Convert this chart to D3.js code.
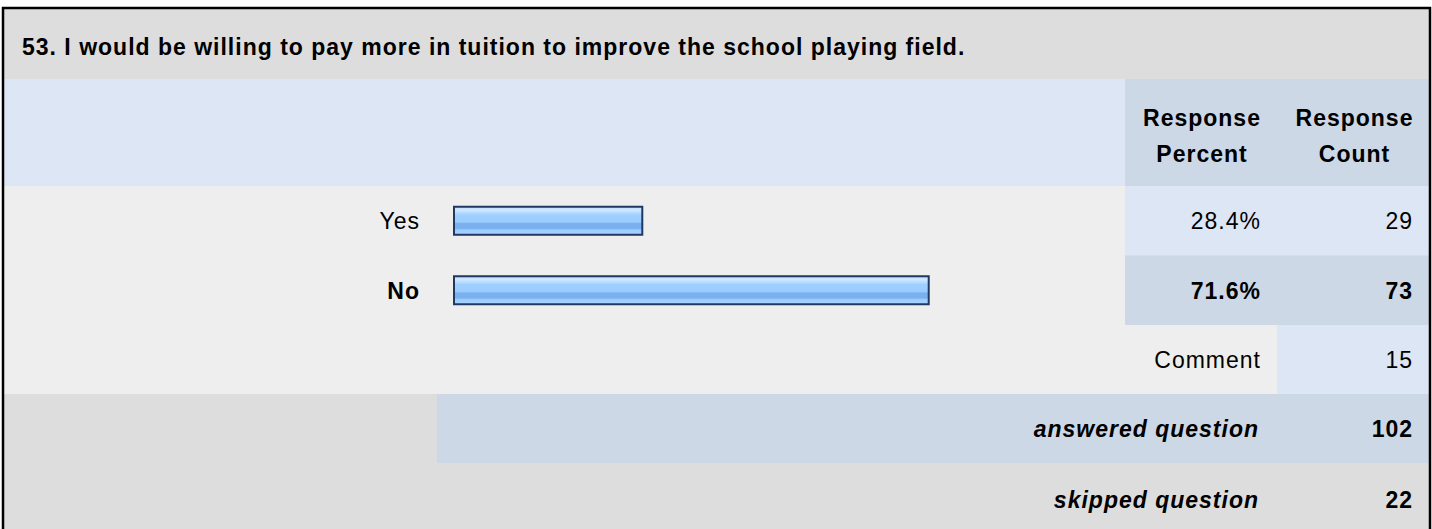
<!DOCTYPE html>
<html>
<head>
<meta charset="utf-8">
<title>Question 53</title>
<style>
  body { margin: 0; background: #fff; }
  svg text { font-family: "Liberation Sans", Arial, sans-serif; font-size: 23px; letter-spacing: 1px; fill: #000; }
  .bold { font-weight: bold; }
  .ital { font-style: italic; font-weight: bold; }
</style>
</head>
<body>
<svg width="1432" height="529"></svg>
<script src="https://cdn.jsdelivr.net/npm/d3@7"></script>
<script>
var title = '53. I would be willing to pay more in tuition to improve the school playing field.';
var categories = ['Yes', 'No'];
var percents = [28.4, 71.6];
var counts = [29, 73];
var headerLines = ['Response', 'Percent', 'Count'];
var commentCount = 15;
var answered = 102;
var skipped = 22;

var svg = d3.select('svg');

// x positions of the table columns
var left = 4, right = 1430, colPct = 1125, colCnt = 1277;
var pctRight = 1261, cntRight = 1413, labelRight = 420;

// bar scale, 0..100%
var x = d3.scaleLinear().domain([0, 100]).range([454, 1117]);
// rows for the answer options
var y = d3.scaleBand().domain(categories).range([186, 325]);

var rowH = y.bandwidth();
var maxPct = d3.max(percents);

// title band
svg.append('rect').attr('x', left).attr('y', 8).attr('width', right - left).attr('height', 71).attr('fill', '#dddddd');
svg.append('text').attr('class', 'bold').attr('x', 22).attr('y', 55).text(title);

// header band
svg.append('rect').attr('x', left).attr('y', 79).attr('width', right - left).attr('height', 107).attr('fill', '#dce6f4');
svg.append('rect').attr('x', colPct).attr('y', 79).attr('width', right - colPct).attr('height', 107).attr('fill', '#ccd8e6');

var headers = [
  {cx: (colPct + colCnt) / 2 + 1, lines: [headerLines[0], headerLines[1]]},
  {cx: (colCnt + right) / 2 + 1, lines: [headerLines[0], headerLines[2]]}
];
headers.forEach(function(h) {
  h.lines.forEach(function(t, i) {
    svg.append('text').attr('class', 'bold')
      .attr('x', h.cx).attr('y', 126 + i * 36)
      .attr('text-anchor', 'middle').text(t);
  });
});

// answer rows
var data = categories.map(function(c, i) {
  return {name: c, pct: percents[i], count: counts[i], top: percents[i] === maxPct};
});

var rows = svg.append('g').selectAll('g').data(data).enter().append('g');

rows.append('rect')
  .attr('x', left).attr('y', function(d) { return y(d.name); })
  .attr('width', colPct - left).attr('height', rowH + 0.5)
  .attr('fill', '#eeeeee');
rows.append('rect')
  .attr('x', colPct).attr('y', function(d) { return y(d.name); })
  .attr('width', right - colPct).attr('height', rowH + 0.5)
  .attr('fill', function(d) { return d.top ? '#ccd8e6' : '#dce6f4'; });

// bar gradient
var grad = svg.append('defs').append('linearGradient')
  .attr('id', 'barfill').attr('x1', 0).attr('y1', 0).attr('x2', 0).attr('y2', 1);
[[0, '#b8dcff'], [0.12, '#d2e9ff'], [0.3, '#9fcfff'], [0.55, '#99ccff'], [0.6, '#7ab0ee'],
 [0.78, '#7ab0ee'], [0.82, '#99ccff'], [1, '#a9d4ff']].forEach(function(s) {
  grad.append('stop').attr('offset', s[0]).attr('stop-color', s[1]);
});

rows.append('rect')
  .attr('x', x(0))
  .attr('y', function(d) { return y(d.name) + rowH / 2 - 14; })
  .attr('width', function(d) { return x(d.pct) - x(0); })
  .attr('height', 28)
  .attr('fill', 'url(#barfill)')
  .attr('stroke', '#1f3864').attr('stroke-width', 2);

rows.append('text')
  .attr('class', function(d) { return d.top ? 'bold' : null; })
  .attr('x', labelRight).attr('y', function(d) { return y(d.name) + rowH / 2; })
  .attr('dy', '0.36em').attr('text-anchor', 'end')
  .text(function(d) { return d.name; });
rows.append('text')
  .attr('class', function(d) { return d.top ? 'bold' : null; })
  .attr('x', pctRight).attr('y', function(d) { return y(d.name) + rowH / 2; })
  .attr('dy', '0.36em').attr('text-anchor', 'end')
  .text(function(d) { return d3.format('.1f')(d.pct) + '%'; });
rows.append('text')
  .attr('class', function(d) { return d.top ? 'bold' : null; })
  .attr('x', cntRight).attr('y', function(d) { return y(d.name) + rowH / 2; })
  .attr('dy', '0.36em').attr('text-anchor', 'end')
  .text(function(d) { return d.count; });

// comment row
svg.append('rect').attr('x', left).attr('y', 325).attr('width', colCnt - left).attr('height', 69).attr('fill', '#eeeeee');
svg.append('rect').attr('x', colCnt).attr('y', 325).attr('width', right - colCnt).attr('height', 69).attr('fill', '#dce6f4');
svg.append('text').attr('x', pctRight).attr('y', 359.5).attr('dy', '0.36em').attr('text-anchor', 'end').text('Comment');
svg.append('text').attr('x', cntRight).attr('y', 359.5).attr('dy', '0.36em').attr('text-anchor', 'end').text(commentCount);

// answered / skipped
svg.append('rect').attr('x', left).attr('y', 394).attr('width', right - left).attr('height', 140).attr('fill', '#dddddd');
svg.append('rect').attr('x', 437).attr('y', 394).attr('width', right - 437).attr('height', 69).attr('fill', '#ccd8e6');
svg.append('text').attr('class', 'ital').attr('x', pctRight - 2).attr('y', 429).attr('dy', '0.36em').attr('text-anchor', 'end').text('answered question');
svg.append('text').attr('class', 'bold').attr('x', cntRight).attr('y', 429).attr('dy', '0.36em').attr('text-anchor', 'end').text(answered);
svg.append('text').attr('class', 'ital').attr('x', pctRight - 2).attr('y', 500).attr('dy', '0.36em').attr('text-anchor', 'end').text('skipped question');
svg.append('text').attr('class', 'bold').attr('x', cntRight).attr('y', 500).attr('dy', '0.36em').attr('text-anchor', 'end').text(skipped);

// outer frame
svg.append('rect').attr('x', 3).attr('y', 8).attr('width', 1427).attr('height', 560)
  .attr('fill', 'none').attr('stroke', '#000').attr('stroke-width', 2.5);
</script>
</body>
</html>
